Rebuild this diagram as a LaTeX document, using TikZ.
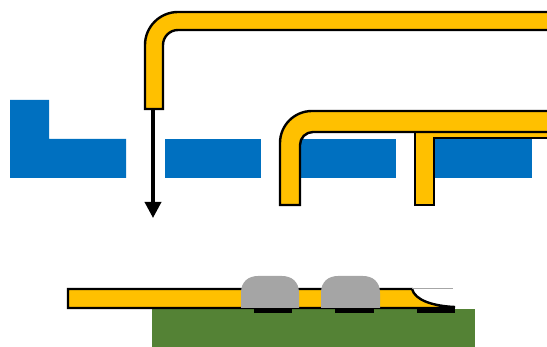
\documentclass[tikz,border=0pt]{standalone}
\usepackage{xcolor}
\usetikzlibrary{
  arrows.meta
}
\definecolor{padblue}{HTML}{0070C0}
\definecolor{leadyellow}{HTML}{FFC000}
\definecolor{boardgreen}{HTML}{548235}
\definecolor{solidgray}{HTML}{A5A5A5}
\tikzset{
  >=stealth,
  line join=miter,
  padblock/.style={fill=padblue},
  leadshape/.style={draw=black, fill=leadyellow, line width=2.4pt},
  leadedge/.style={draw=black, line width=2.4pt},
  solderbump/.style={fill=solidgray},
  footpad/.style={fill=black},
  pusharrow/.style={-{Triangle[length=16pt,width=16pt]}, line width=3.5pt}
}

\begin{document}
\begin{tikzpicture}[x=1pt,y=-1pt]
  \useasboundingbox (0,0) rectangle (547,347);

  % blue blocks
  \fill[padblock] (10,100) -- (49,100) -- (49,139) -- (126,139) -- (126,178) -- (10,178) -- cycle;
  \fill[padblock] (165,139) rectangle (261,178);
  \fill[padblock] (298,139) rectangle (396,178);
  \fill[padblock] (435,139) rectangle (532,178);

  % top lead and arrow
  \coordinate (ArrowStart) at (153,109);
  \coordinate (ArrowEnd) at (153,218);
  \draw[pusharrow] (ArrowStart) -- (ArrowEnd);
  \path[leadshape] (145,109) -- (145,45) arc[start angle=180, end angle=270, radius=33]
    -- (549,12) -- (549,30) -- (178,30) arc[start angle=270, end angle=180, radius=15]
    -- (163,109) -- cycle;

  % middle lead with post
  \path[fill=leadyellow] (280,205) -- (280,143) arc[start angle=180, end angle=270, radius=32]
    -- (549,111) -- (549,138) -- (434,138) -- (434,205) -- (415,205) -- (415,132)
    -- (313,132) arc[start angle=270, end angle=180, radius=13] -- (300,205) -- cycle;
  \draw[leadedge] (549,111) -- (312,111) arc[start angle=270, end angle=180, radius=32]
    -- (280,205) -- (300,205) -- (300,145) arc[start angle=180, end angle=270, radius=13] -- (549,132);
  \draw[leadedge] (549,138) -- (434,138) -- (434,205) -- (415,205) -- (415,132);

  % board
  \fill[boardgreen] (152,309) rectangle (475,347);
  \fill[footpad] (254,308) rectangle (292,313);
  \fill[footpad] (335,308) rectangle (374,313);
  \fill[footpad] (417,306) rectangle (455,313);

  % flat lead on board
  \path[leadshape] (68,308) -- (68,289) -- (412,289) .. controls (415,300) and (432,306) .. (455,307) -- (440,308) -- cycle;
  \draw[gray!70, line width=0.8pt] (412,288) -- (453,288);

  % solder
  \fill[solderbump] (241,308) -- (241,293) .. controls (241,282) and (248,276) .. (258,276) -- (282,276)
    .. controls (292,276) and (299,282) .. (299,293) -- (299,308) -- cycle;
  \fill[solderbump] (321,308) -- (321,293) .. controls (321,282) and (328,276) .. (338,276) -- (363,276)
    .. controls (373,276) and (380,282) .. (380,293) -- (380,308) -- cycle;
\end{tikzpicture}
\end{document}
